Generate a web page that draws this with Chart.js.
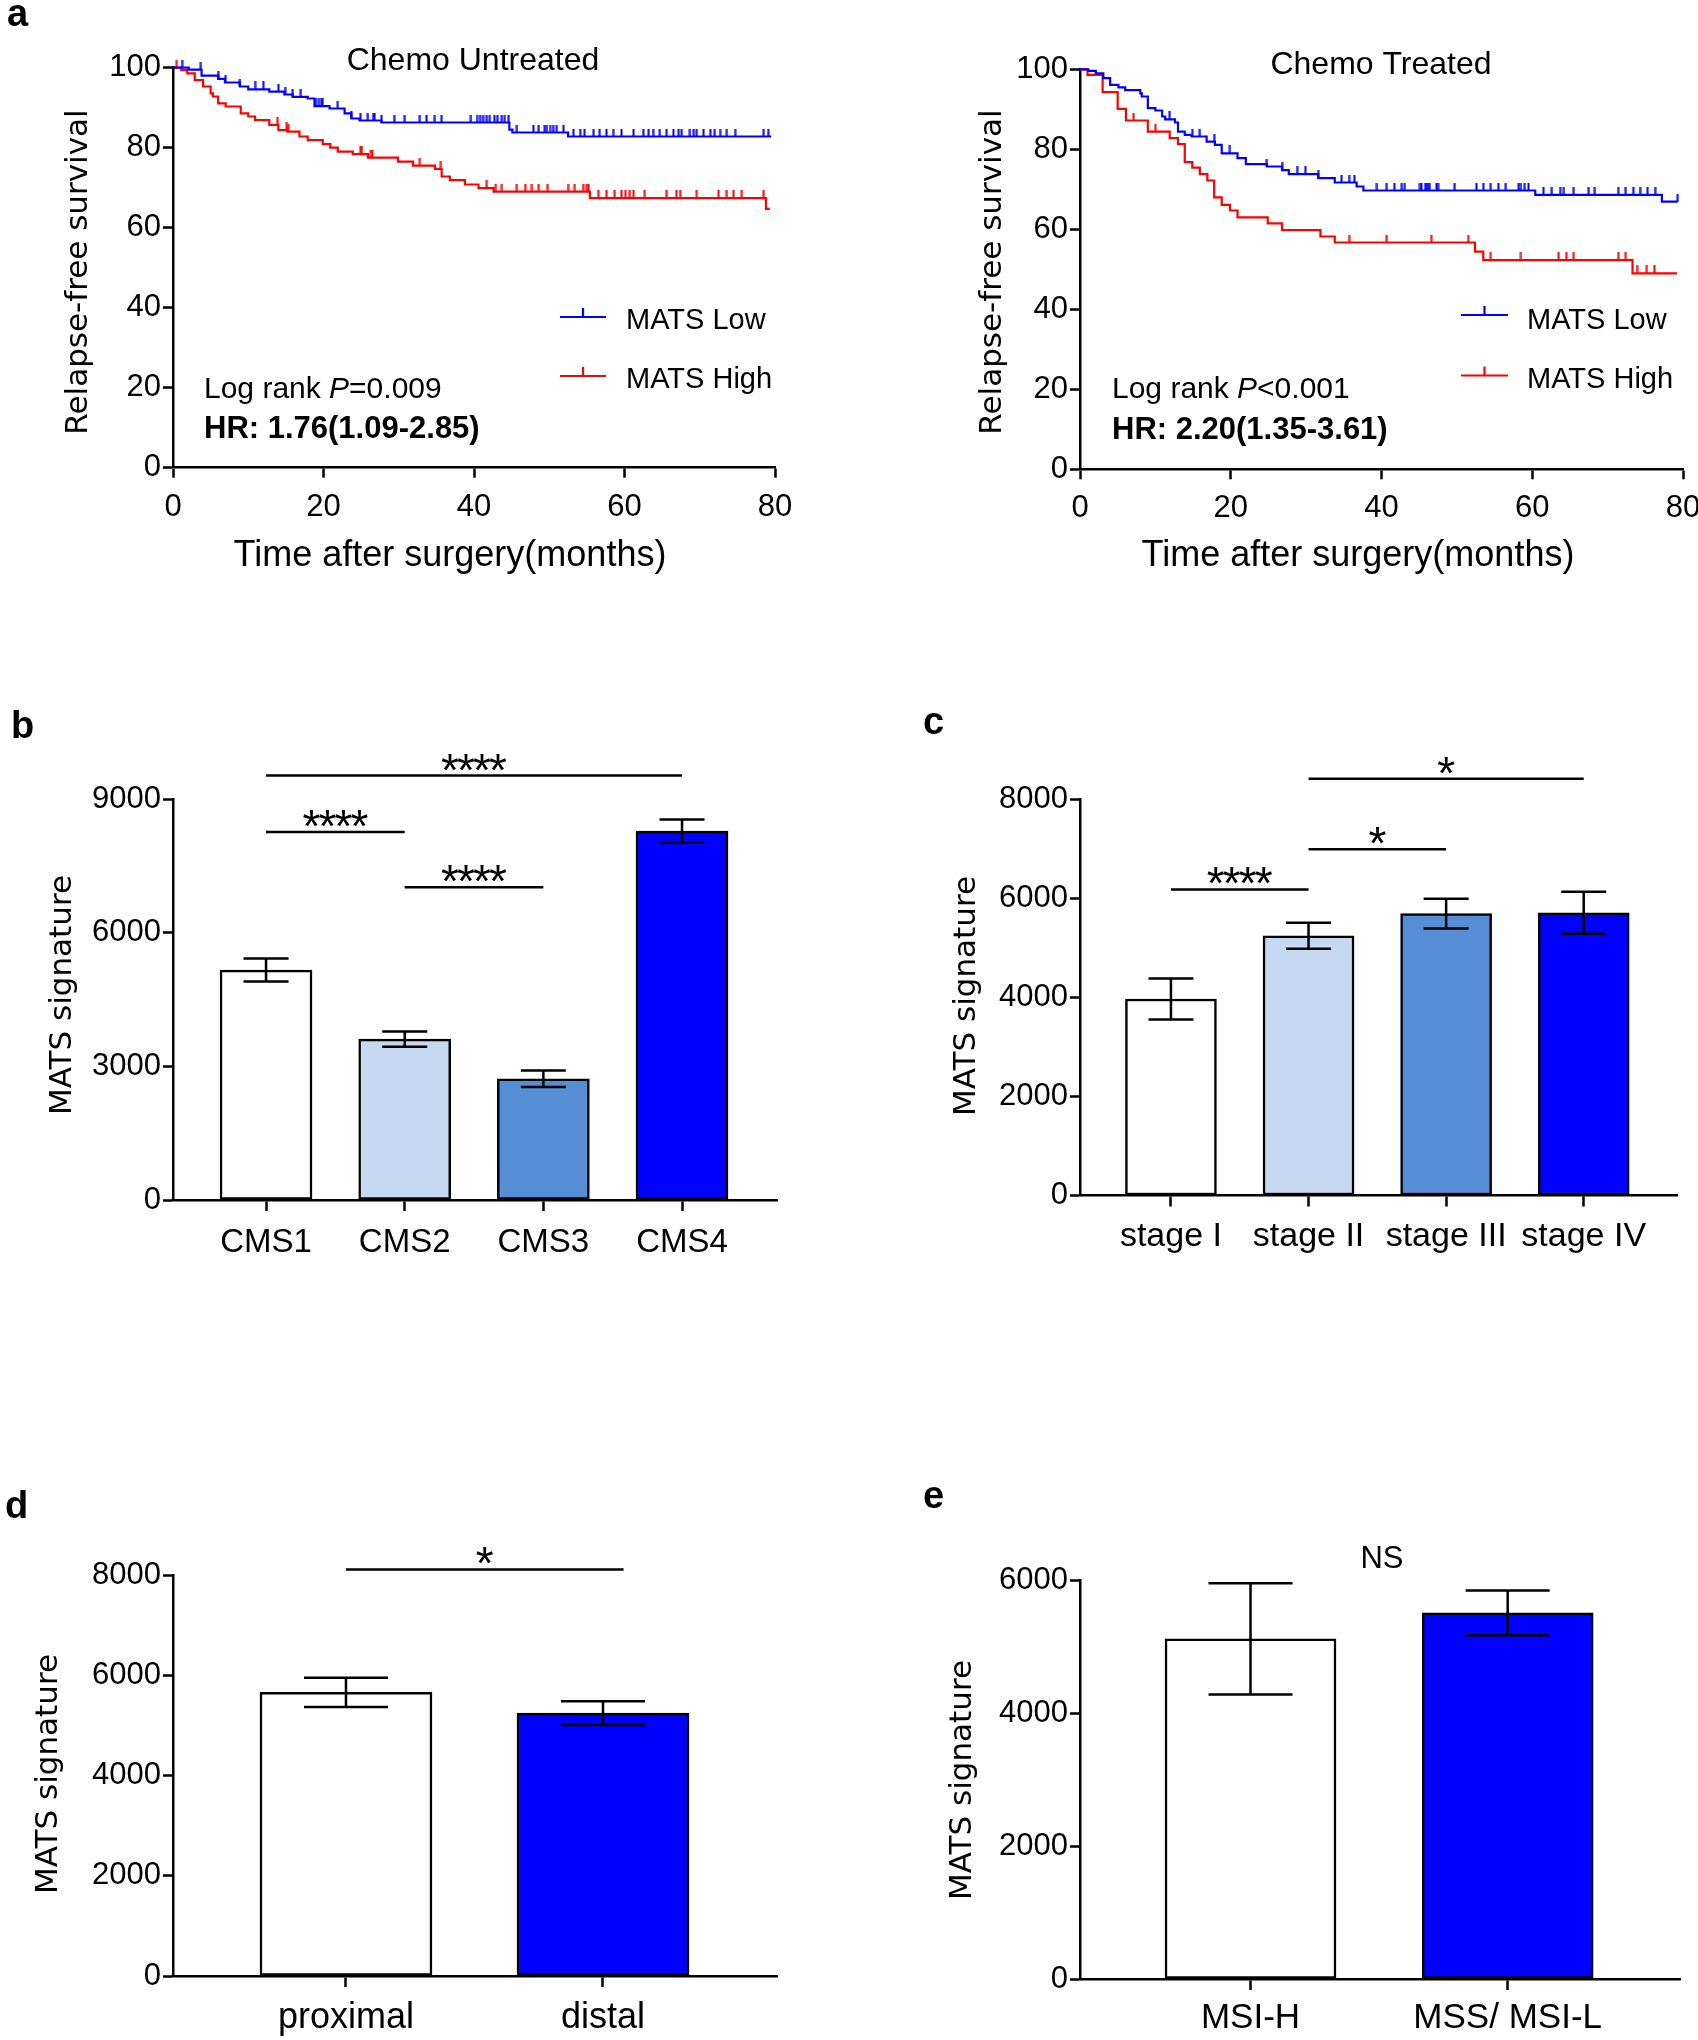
<!DOCTYPE html>
<html>
<head>
<meta charset="utf-8">
<script src="https://cdn.jsdelivr.net/npm/chart.js@4.4.1/dist/chart.umd.min.js"></script>
<style>
    html, body { margin: 0; padding: 0; background: #fff; }
    #page { position: relative; width: 1698px; height: 2040px; overflow: hidden; }
    #page canvas { position: absolute; }
</style>
</head>
<body>
<div id="page">
    <canvas id="kmUntreated" width="849" height="600" style="left:0;top:0"></canvas>
    <canvas id="kmTreated" width="849" height="600" style="left:849px;top:0"></canvas>
    <canvas id="barCms" width="849" height="640" style="left:0;top:660px"></canvas>
    <canvas id="barStage" width="849" height="640" style="left:849px;top:660px"></canvas>
    <canvas id="barSite" width="849" height="600" style="left:0;top:1440px"></canvas>
    <canvas id="barMsi" width="849" height="600" style="left:849px;top:1440px"></canvas>
</div>
<script>
/* MATS signature figure — KM curves (a) and group bar charts (b–e). */

const BLUE = '#0000ff', RED = '#ff0000';
const SANS = '"Liberation Sans", Arial, sans-serif';
const WIDE = '"DejaVu Sans", Verdana, sans-serif';

/* ---- a: relapse-free survival, step points (months, %) + censor times ---- */
const untreatedLowT = [0, 2.1, 3.8, 6.0, 6.9, 8.9, 10.0, 12.8, 14.8, 15.9, 17.9, 18.8, 20.8, 22.8, 23.7, 24.8, 27.7, 44.7, 45.1, 52.5, 79.5];
const untreatedLowS = [100, 99.5, 98.0, 97.2, 96.3, 95.3, 94.6, 94.0, 93.3, 92.7, 92.3, 90.4, 89.8, 88.6, 87.3, 86.8, 86.3, 84.5, 83.8, 82.8, 82.8];
const untreatedLowCens = [1.2, 3.7, 6.0, 7.0, 8.9, 10.9, 12.0, 14.0, 14.9, 15.9, 17.0, 19.0, 19.4, 19.7, 19.9, 21.9, 23.7, 24.9, 25.9, 26.6, 26.8, 27.7, 29.4, 30.8, 32.8, 33.7, 34.8, 35.7, 39.6, 40.4, 40.8, 41.2, 41.7, 42.1, 42.7, 43.1, 43.7, 44.1, 44.6, 45.7, 47.9, 48.6, 49.4, 49.7, 50.1, 50.5, 51.0, 51.9, 53.2, 54.1, 54.7, 55.9, 56.7, 57.6, 58.5, 59.6, 61.2, 62.5, 63.2, 63.8, 64.7, 65.6, 66.5, 67.2, 67.6, 68.7, 69.2, 69.6, 70.5, 71.4, 72.0, 72.7, 73.6, 74.7, 78.5, 79.1];

const untreatedHighT = [0, 1.1, 1.9, 2.9, 4.0, 5.0, 5.3, 6.0, 7.0, 9.0, 10.0, 10.9, 12.8, 14.0, 15.2, 16.8, 17.9, 19.9, 20.9, 21.9, 23.9, 25.9, 29.9, 31.9, 34.8, 35.7, 36.8, 38.8, 40.6, 42.6, 55.4, 78.8, 79.3];
const untreatedHighS = [100, 99.4, 98.6, 96.9, 95.3, 93.6, 92.8, 91.1, 90.3, 88.6, 87.8, 86.9, 85.7, 84.4, 84.0, 82.8, 81.9, 80.9, 80.0, 79.0, 78.4, 77.5, 76.5, 75.5, 74.7, 72.8, 71.9, 70.8, 69.9, 69.0, 67.4, 64.7, 64.7];
const untreatedHighCens = [0.5, 13.9, 15.1, 15.3, 24.9, 25.1, 26.3, 26.5, 32.8, 35.6, 41.7, 42.9, 43.7, 45.7, 46.8, 47.7, 48.6, 49.8, 52.5, 53.4, 54.5, 55.0, 55.2, 56.5, 57.6, 58.7, 59.6, 60.1, 60.7, 61.2, 62.7, 65.6, 66.9, 67.4, 69.6, 72.5, 73.6, 74.5, 75.6, 78.5];

const treatedLowT = [0, 1.1, 2.1, 3.1, 4.0, 5.1, 6.0, 8.0, 8.2, 9.0, 10.0, 10.9, 11.3, 12.6, 13.0, 13.9, 14.8, 16.8, 17.9, 18.8, 20.9, 22.0, 24.8, 26.8, 27.7, 31.6, 33.8, 36.7, 37.6, 60.4, 77.2, 79.3];
const treatedLowS = [100, 99.6, 99.0, 97.8, 96.1, 95.5, 94.8, 94.0, 93.2, 90.3, 89.7, 88.2, 87.5, 86.7, 84.4, 83.6, 83.2, 81.9, 81.1, 79.0, 77.8, 76.3, 75.7, 74.8, 73.8, 72.8, 71.7, 70.7, 69.7, 68.6, 66.9, 66.9];
const treatedLowCens = [11.9, 14.9, 15.9, 17.8, 19.9, 24.8, 26.8, 28.8, 29.9, 31.6, 34.7, 35.7, 36.4, 39.4, 40.7, 41.7, 42.7, 43.1, 45.1, 45.3, 45.8, 46.0, 46.2, 46.4, 47.3, 47.5, 49.7, 52.6, 53.5, 54.5, 55.5, 56.5, 58.2, 58.5, 59.0, 59.5, 61.5, 62.6, 63.7, 64.2, 65.5, 67.5, 68.3, 71.4, 72.4, 73.4, 74.3, 75.3, 76.3, 79.3];

const treatedHighT = [0, 1.0, 3.0, 5.0, 6.1, 9.0, 11.9, 13.0, 13.9, 14.9, 15.9, 16.9, 17.8, 18.8, 19.9, 20.9, 24.9, 26.8, 31.9, 33.8, 52.4, 53.5, 73.3, 79.2];
const treatedHighS = [100, 98.6, 94.3, 90.1, 87.2, 84.4, 82.8, 81.3, 76.8, 75.4, 73.8, 72.2, 68.0, 66.1, 64.7, 63.0, 61.5, 59.8, 58.2, 56.7, 54.4, 52.3, 49.0, 49.0];
const treatedHighCens = [7.1, 10.0, 35.7, 40.7, 46.6, 51.5, 54.5, 58.5, 63.5, 64.5, 65.5, 71.4, 72.4, 73.9, 75.2, 76.2];

/* ---- b–e: MATS signature, mean ± error, significance brackets ---- */
const cmsLabels = ['CMS1', 'CMS2', 'CMS3', 'CMS4'];
const cmsMeans = [5160, 3610, 2720, 8280];
const cmsErr = [258, 173, 185, 259];
const cmsSig = [
    { from: 1, to: 4, level: 9525, mark: '****' },
    { from: 1, to: 2, level: 8260, mark: '****' },
    { from: 2, to: 3, level: 7020, mark: '****' },
];

const stageLabels = ['stage I', 'stage II', 'stage III', 'stage IV'];
const stageMeans = [3965, 5241, 5689, 5704];
const stageErr = [413, 260, 300, 425];
const stageSig = [
    { from: 1, to: 2, level: 6176, mark: '****' },
    { from: 2, to: 3, level: 6987, mark: '*' },
    { from: 2, to: 4, level: 8410, mark: '*' },
];

const siteLabels = ['proximal', 'distal'];
const siteMeans = [5659, 5244];
const siteErr = [290, 237];
const siteSig = [{ from: 1, to: 2.08, level: 8111, mark: '*' }];

const msiLabels = ['MSI-H', 'MSS/ MSI-L'];
const msiMeans = [5115, 5505];
const msiErr = [835, 337];

const FOUR_FILLS = ['#ffffff', '#c6d9f1', '#558ed5', '#0000ff'];
const TWO_FILLS = ['#ffffff', '#0000ff'];

Chart.defaults.color = '#000';
Chart.defaults.font.family = SANS;

function survAt(times, surv, t) {
    let s = surv[0];
    for (let i = 0; i < times.length; i++) if (times[i] <= t) s = surv[i];
    return s;
}

// censor mark: short vertical stroke sitting on top of the curve
function tickMark(color) {
    const c = document.createElement('canvas');
    c.width = 3; c.height = 16;
    const g = c.getContext('2d');
    g.fillStyle = color;
    g.fillRect(0.5, 0, 2, 8);
    return c;
}

function drawText(ctx, it) {
    ctx.save();
    ctx.fillStyle = '#000';
    ctx.textBaseline = 'alphabetic';
    ctx.textAlign = 'left';
    ctx.translate(it.x, it.y);
    if (it.rot) ctx.rotate(it.rot * Math.PI / 180);
    const runs = Array.isArray(it.t) ? it.t : [[it.t, '']];
    let total = 0;
    runs.forEach(([s, st]) => { ctx.font = `${st} ${it.font}`.trim(); total += ctx.measureText(s).width; });
    let x = it.align === 'left' ? 0 : -total / 2;
    runs.forEach(([s, st]) => {
        ctx.font = `${st} ${it.font}`.trim();
        ctx.fillText(s, x, 0);
        x += ctx.measureText(s).width;
    });
    ctx.restore();
}

function decor(spec) {
    return {
        id: 'decor',
        afterDatasetsDraw(chart) {
            const { ctx } = chart, xs = chart.scales.x, ys = chart.scales.y;
            ctx.save();
            ctx.strokeStyle = '#000';
            ctx.lineWidth = 2.5;
            (spec.means || []).forEach((m, i) => {
                const x = xs.getPixelForValue(i + 1);
                const yt = ys.getPixelForValue(m + spec.errs[i]);
                const yb = ys.getPixelForValue(m - spec.errs[i]);
                const h = spec.cap / 2;
                ctx.beginPath();
                ctx.moveTo(x, yt); ctx.lineTo(x, yb);
                ctx.moveTo(x - h, yt); ctx.lineTo(x + h, yt);
                ctx.moveTo(x - h, yb); ctx.lineTo(x + h, yb);
                ctx.stroke();
            });
            ctx.restore();
        },
        afterDraw(chart) {
            const { ctx } = chart, xs = chart.scales.x, ys = chart.scales.y;
            ctx.save();
            (spec.sig || []).forEach((b) => {
                const x1 = xs.getPixelForValue(b.from), x2 = xs.getPixelForValue(b.to);
                const y = ys.getPixelForValue(b.level);
                ctx.strokeStyle = '#000';
                ctx.lineWidth = 2.5;
                ctx.beginPath(); ctx.moveTo(x1, y); ctx.lineTo(x2, y); ctx.stroke();
                ctx.font = `46px ${SANS}`;
                ctx.textAlign = 'center';
                ctx.textBaseline = 'alphabetic';
                ctx.fillStyle = '#000';
                const mid = (x1 + x2) / 2, n = b.mark.length;
                for (let k = 0; k < n; k++) ctx.fillText('*', mid + (k - (n - 1) / 2) * 16, y + 10);
            });
            if (spec.legend) {
                const L = spec.legend;
                L.rows.forEach((r) => {
                    ctx.strokeStyle = r.color;
                    ctx.lineWidth = 2.2;
                    ctx.beginPath();
                    ctx.moveTo(L.x0, r.y); ctx.lineTo(L.x1, r.y);
                    const mx = (L.x0 + L.x1) / 2;
                    ctx.moveTo(mx, r.y); ctx.lineTo(mx, r.y - 9);
                    ctx.stroke();
                    drawText(ctx, { t: r.label, x: L.textX, y: r.base, font: `29px ${SANS}`, align: 'left' });
                });
            }
            ctx.restore();
            (spec.texts || []).forEach((it) => drawText(ctx, it));
        },
    };
}

function axis(box, H, o) {
    const horiz = o.horiz;
    return {
        type: 'linear',
        min: o.min, max: o.max,
        offset: false,
        border: { display: true, color: '#000', width: 2.5 },
        grid: { display: true, offset: false, drawOnChartArea: false, drawTicks: true,
                tickLength: o.tl, tickColor: '#000', tickWidth: 2.5 },
        ticks: { color: '#000', padding: o.pad, font: { family: SANS, size: o.size },
                 autoSkip: false, maxRotation: 0, minRotation: 0,
                 stepSize: o.step, callback: o.cb || ((v) => String(v)) },
        afterBuildTicks: o.ticksAt ? (s) => { s.ticks = o.ticksAt.map((v) => ({ value: v })); } : undefined,
        afterFit: (s) => {
            if (horiz) { s.height = H - box.bottom; s.paddingLeft = 0; s.paddingRight = 0; }
            else { s.width = box.left; s.paddingTop = 0; s.paddingBottom = 0; }
        },
    };
}

function baseOptions(box, W, H, x, y) {
    return {
        responsive: false, animation: false, devicePixelRatio: 1, events: [],
        layout: { padding: { left: 0, top: box.top, right: W - box.right, bottom: 0 } },
        plugins: { legend: { display: false }, tooltip: { enabled: false } },
        scales: { x: axis(box, H, Object.assign({ horiz: true }, x)), y: axis(box, H, y) },
    };
}

function kmChart(id, box, curves, spec) {
    const cv = document.getElementById(id);
    const datasets = [];
    curves.forEach((c) => {
        datasets.push({
            type: 'line', data: c.t.map((t, i) => ({ x: t, y: c.s[i] })),
            borderColor: c.color, borderWidth: 2.2, stepped: true,
            pointRadius: 0, fill: false, clip: false,
        });
        datasets.push({
            type: 'scatter', data: c.cens.map((t) => ({ x: t, y: survAt(c.t, c.s, t) })),
            pointStyle: tickMark(c.color), pointRadius: 3, clip: false,
        });
    });
    new Chart(cv, {
        type: 'line',
        data: { datasets },
        options: baseOptions(box, cv.width, cv.height,
            { min: 0, max: 80, step: 20, tl: 10, pad: 11, size: 31 },
            { min: 0, max: 100, step: 20, tl: 10, pad: 2, size: 31 }),
        plugins: [decor(spec)],
    });
}

function barChart(id, box, cats, means, errs, fills, o) {
    const cv = document.getElementById(id);
    new Chart(cv, {
        type: 'bar',
        data: {
            datasets: [{
                data: means.map((m, i) => ({ x: i + 1, y: m })),
                backgroundColor: fills, borderColor: '#000', borderWidth: 2.5,
                borderSkipped: false, barThickness: o.barW,
            }],
        },
        options: baseOptions(box, cv.width, cv.height,
            { min: o.xMin, max: o.xMax, tl: 11, pad: o.xPad, size: o.xSize,
              ticksAt: cats.map((_, i) => i + 1), cb: (v) => cats[Math.round(v) - 1] || '' },
            { min: 0, max: o.yMax, step: o.yStep, tl: 10, pad: 2, size: 31 }),
        plugins: [decor({ means, errs, cap: o.cap, sig: o.sig, texts: o.texts })],
    });
}

/* ---- panel a ---- */
kmChart('kmUntreated', { left: 173, right: 775, top: 67.7, bottom: 467.7 }, [
    { t: untreatedLowT, s: untreatedLowS, cens: untreatedLowCens, color: BLUE },
    { t: untreatedHighT, s: untreatedHighS, cens: untreatedHighCens, color: RED },
], {
    legend: { x0: 560, x1: 606, textX: 626, rows: [
        { label: 'MATS Low', color: BLUE, y: 317, base: 329 },
        { label: 'MATS High', color: RED, y: 376, base: 388 },
    ] },
    texts: [
        { t: 'a', x: 7, y: 26, font: `bold 38px ${SANS}`, align: 'left' },
        { t: 'Chemo Untreated', x: 473, y: 70, font: `32px ${SANS}` },
        { t: 'Relapse-free survival', x: 87, y: 272, font: `31px ${WIDE}`, rot: -90 },
        { t: 'Time after surgery(months)', x: 450, y: 566, font: `36px ${SANS}` },
        { t: [['Log rank ', ''], ['P', 'italic'], ['=0.009', '']], x: 204, y: 398, font: `30px ${SANS}`, align: 'left' },
        { t: 'HR: 1.76(1.09-2.85)', x: 204, y: 438, font: `bold 31px ${SANS}`, align: 'left' },
    ],
});

kmChart('kmTreated', { left: 231, right: 834, top: 69.3, bottom: 469.3 }, [
    { t: treatedLowT, s: treatedLowS, cens: treatedLowCens, color: BLUE },
    { t: treatedHighT, s: treatedHighS, cens: treatedHighCens, color: RED },
], {
    legend: { x0: 612, x1: 659, textX: 678, rows: [
        { label: 'MATS Low', color: BLUE, y: 315, base: 329 },
        { label: 'MATS High', color: RED, y: 375.5, base: 388 },
    ] },
    texts: [
        { t: 'Chemo Treated', x: 532, y: 74, font: `32px ${SANS}` },
        { t: 'Relapse-free survival', x: 152, y: 272, font: `31px ${WIDE}`, rot: -90 },
        { t: 'Time after surgery(months)', x: 509, y: 566, font: `36px ${SANS}` },
        { t: [['Log rank ', ''], ['P', 'italic'], ['<0.001', '']], x: 263, y: 398, font: `30px ${SANS}`, align: 'left' },
        { t: 'HR: 2.20(1.35-3.61)', x: 263, y: 439, font: `bold 31px ${SANS}`, align: 'left' },
    ],
});

/* ---- panels b–e ---- */
barChart('barCms', { left: 173, right: 777, top: 139, bottom: 540 }, cmsLabels, cmsMeans, cmsErr, FOUR_FILLS, {
    xMin: 0.329, xMax: 4.685, barW: 92, cap: 45, xPad: 12, xSize: 33, yMax: 9000, yStep: 3000, sig: cmsSig,
    texts: [
        { t: 'b', x: 11, y: 78, font: `bold 38px ${SANS}`, align: 'left' },
        { t: 'MATS signature', x: 71, y: 335, font: `31px ${WIDE}`, rot: -90 },
    ],
});

barChart('barStage', { left: 231, right: 828, top: 139, bottom: 535.5 }, stageLabels, stageMeans, stageErr, FOUR_FILLS, {
    xMin: 0.339, xMax: 4.678, barW: 91, cap: 45, xPad: 10, xSize: 34, yMax: 8000, yStep: 2000, sig: stageSig,
    texts: [
        { t: 'c', x: 74, y: 74, font: `bold 38px ${SANS}`, align: 'left' },
        { t: 'MATS signature', x: 126, y: 336, font: `31px ${WIDE}`, rot: -90 },
    ],
});

barChart('barSite', { left: 173, right: 777, top: 135, bottom: 536 }, siteLabels, siteMeans, siteErr, TWO_FILLS, {
    xMin: 0.327, xMax: 2.677, barW: 172, cap: 84, xPad: 9, xSize: 36, yMax: 8000, yStep: 2000, sig: siteSig,
    texts: [
        { t: 'd', x: 5, y: 78, font: `bold 38px ${SANS}`, align: 'left' },
        { t: 'MATS signature', x: 57, y: 334, font: `31px ${WIDE}`, rot: -90 },
    ],
});

barChart('barMsi', { left: 231, right: 831, top: 140, bottom: 539 }, msiLabels, msiMeans, msiErr, TWO_FILLS, {
    xMin: 0.337, xMax: 2.67, barW: 171, cap: 84, xPad: 7, xSize: 35, yMax: 6000, yStep: 2000, sig: [],
    texts: [
        { t: 'e', x: 74, y: 68, font: `bold 38px ${SANS}`, align: 'left' },
        { t: 'MATS signature', x: 122, y: 340, font: `31px ${WIDE}`, rot: -90 },
        { t: 'NS', x: 533, y: 128, font: `31px ${SANS}` },
    ],
});
</script>
</body>
</html>
